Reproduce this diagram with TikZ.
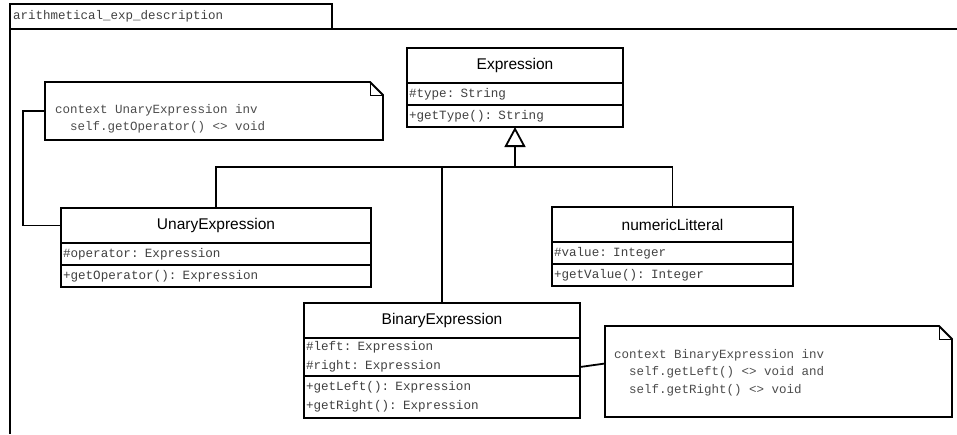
\documentclass[tikz,border=0pt]{standalone}
\usepackage{fontspec}
\setmainfont{Liberation Sans}
\newfontfamily\umlmono{Liberation Mono}
\usetikzlibrary{positioning,arrows.meta}

\tikzset{
  clsname/.style={draw, line width=1.8pt, anchor=north west, minimum width=#1, outer sep=0pt,
    minimum height=35pt, inner sep=0pt, font=\fontsize{15.5}{18}\selectfont},
  clspart/.style={draw, line width=1.8pt, text width=#1, align=left, inner xsep=2pt, outer sep=0pt,
    inner ysep=0pt, minimum height=22pt, font=\umlmono\fontsize{12.6}{19}\selectfont,
    text=black!75},
  notebox/.style={anchor=north west, inner sep=0pt, outer sep=0pt},
  notetext/.style={align=left, inner sep=0pt, font=\umlmono\fontsize{12.5}{17.5}\selectfont,
    text=black!70},
  noteline/.style={line width=1.8pt, line join=miter},
  link/.style={line width=1.8pt}
}

\begin{document}
\begin{tikzpicture}[x=1pt,y=-1pt]
  \useasboundingbox (0,0) rectangle (957,434);

  \node[draw, line width=1.8pt, anchor=north west, minimum width=322pt, minimum height=25pt,
    text width=316pt, inner xsep=3pt, inner ysep=0pt, outer sep=0pt, align=left,
    font=\umlmono\fontsize{12.5}{15}\selectfont, text=black!75] (tab) at (10,4)
    {arithmetical\_exp\_description};
  \draw[link] (tab.south west) -- (10,434);
  \draw[link] (tab.south west) -- (957,29);

  \node[clsname=216pt] (expr) at (407,48) {Expression};
  \node[clspart=212pt, below=0pt of expr] (expr-attr) {\#type: String};
  \node[clspart=212pt, below=0pt of expr-attr] (expr-ops) {+getType(): String};

  \node[clsname=310pt] (unary) at (61,208) {UnaryExpression};
  \node[clspart=306pt, below=0pt of unary] (unary-attr) {\#operator: Expression};
  \node[clspart=306pt, below=0pt of unary-attr] (unary-ops) {+getOperator(): Expression};

  \node[clsname=241pt] (numeric) at (552,207) {numericLitteral};
  \node[clspart=237pt, below=0pt of numeric] (numeric-attr) {\#value: Integer};
  \node[clspart=237pt, below=0pt of numeric-attr] (numeric-ops) {+getValue(): Integer};

  \node[clsname=276pt] (binary) at (304,303) {BinaryExpression};
  \node[clspart=272pt, minimum height=38pt, below=0pt of binary] (bin-attr)
    {\#left: Expression\\\#right: Expression};
  \node[clspart=272pt, minimum height=42pt, below=0pt of bin-attr] (bin-ops)
    {+getLeft(): Expression\\+getRight(): Expression};

  \node[notebox, minimum width=338pt, minimum height=58pt] (unote) at (45,82) {};
  \draw[noteline] (unote.north west) -- ([xshift=-13pt]unote.north east) -- ([yshift=-13pt]unote.north east)
    -- (unote.south east) -- (unote.south west) -- cycle;
  \draw[thin] ([xshift=-13pt]unote.north east) |- ([yshift=-13pt]unote.north east);
  \node[notetext, right=10pt of unote.west, yshift=-8pt] (unote-text)
    {context UnaryExpression inv\\\hphantom{xx}self.getOperator() <> void};

  \node[notebox, minimum width=347pt, minimum height=91pt] (bnote) at (605,326) {};
  \draw[noteline] (bnote.north west) -- ([xshift=-13pt]bnote.north east) -- ([yshift=-13pt]bnote.north east)
    -- (bnote.south east) -- (bnote.south west) -- cycle;
  \draw[thin] ([xshift=-13pt]bnote.north east) |- ([yshift=-13pt]bnote.north east);
  \node[notetext, right=9pt of bnote.west, yshift=-1pt] (bnote-text)
    {context BinaryExpression inv\\\hphantom{xx}self.getLeft() <> void and\\\hphantom{xx}self.getRight() <> void};

  \coordinate (bus) at (515,167);
  \draw[link] (unary.north) -- (unary.north |- bus) -- (numeric.north |- bus) -- (numeric.north);
  \draw[link] (binary.north) -- (binary.north |- bus);
  \draw[link, -{Triangle[open, length=20pt, width=21pt]}] (bus) -- (expr-ops.south);

  \draw[link] (unote.west) -- ++(-22,0) |- (unary.west);
  \draw[link] ([yshift=9pt]bin-attr.south east) -- ([yshift=8pt]bnote.west);
\end{tikzpicture}
\end{document}
